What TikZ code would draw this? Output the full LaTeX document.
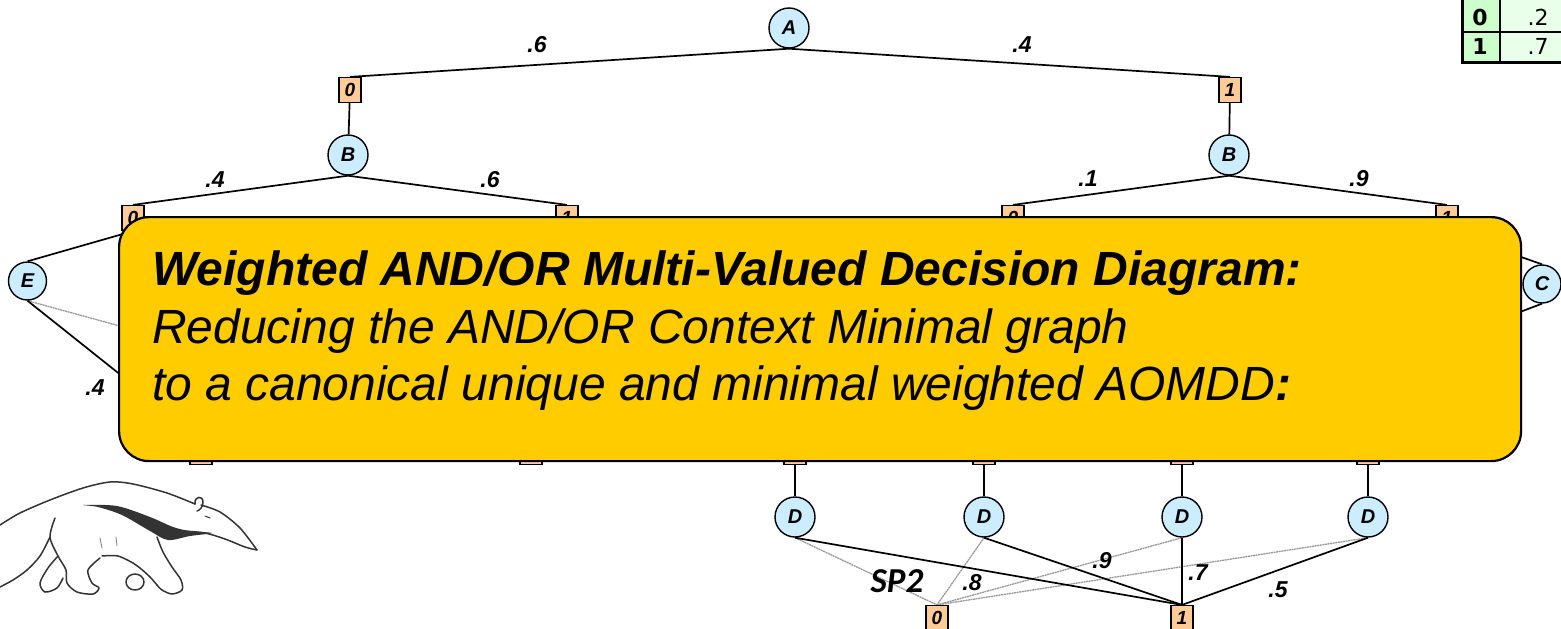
\documentclass[tikz,border=0pt]{standalone}
\usepackage{fontspec}
\setmainfont{Liberation Sans}
\newfontfamily\tablefont{DejaVu Sans}
\newfontfamily\calfont{Carlito}

\definecolor{orblue}{RGB}{204,236,255}
\definecolor{andpeach}{RGB}{255,204,153}
\definecolor{notegold}{RGB}{255,204,0}
\definecolor{cellgreen}{RGB}{204,255,204}
\definecolor{cellpale}{RGB}{234,255,234}

\pgfdeclarelayer{edges}
\pgfdeclarelayer{front}
\pgfsetlayers{edges,main,front}

\begin{document}
\begin{tikzpicture}[x=1pt,y=-1pt,
  ornode/.style={circle,draw,line width=1.4pt,fill=orblue,minimum size=40pt,inner sep=0pt,
    font=\bfseries\itshape\fontsize{20}{20}\selectfont},
  andbox/.style={rectangle,draw,line width=1.2pt,fill=andpeach,minimum width=22pt,minimum height=25pt,
    inner sep=0pt,font=\bfseries\itshape\fontsize{19}{19}\selectfont},
  arcone/.style={line width=1.7pt},
  arczero/.style={line width=1.3pt,gray!80,dash pattern=on 2pt off 0.6pt},
  wt/.style={font=\bfseries\itshape\fontsize{23}{23}\selectfont,inner sep=0pt},
  celltext/.style={font=\tablefont\fontsize{22}{22}\selectfont,inner sep=0pt},
  sketch/.style={line width=1.5pt,draw=black!80,line cap=round,line join=round},
]
\useasboundingbox (0,0) rectangle (1561,629);

% OR nodes and AND nodes
\node[ornode] (A) at (789,28) {A};
\node[andbox] (a0) at (350,90) {0};
\node[andbox] (a1) at (1230,90) {1};
\node[ornode] (BL) at (348,155) {B};
\node[ornode] (BR) at (1229,155) {B};
\node[andbox] (b00) at (133,218) {0};
\node[andbox] (b01) at (567,218) {1};
\node[andbox] (b10) at (1013,218) {0};
\node[andbox] (b11) at (1447,218) {1};
\node[ornode,minimum size=38pt] (E) at (27.5,281) {E};
\node[ornode,minimum size=38pt] (C) at (1542,284) {C};
\node[andbox] (l1) at (201,452) {};
\node[andbox] (l2) at (531,452) {};
\node[andbox] (l3) at (795,452) {};
\node[andbox] (l4) at (984,452) {};
\node[andbox] (l5) at (1182,452) {};
\node[andbox] (l6) at (1368,452) {};
\node[ornode] (D1) at (795,517) {D};
\node[ornode] (D2) at (984,517) {D};
\node[ornode] (D3) at (1182,517) {D};
\node[ornode] (D4) at (1368,517) {D};
\node[andbox] (t0) at (937,618) {0};
\node[andbox] (t1) at (1182,618) {1};

% arcs
\begin{pgfonlayer}{edges}
  \draw[arcone] (A.south) -- (a0.north);
  \draw[arcone] (A.south) -- (a1.north);
  \draw[arcone] (a0) -- (BL);
  \draw[arcone] (a1) -- (BR);
  \draw[arcone] (BL.south) -- (b00.north);
  \draw[arcone] (BL.south) -- (b01.north);
  \draw[arcone] (BR.south) -- (b10.north);
  \draw[arcone] (BR.south) -- (b11.north);
  \draw[arcone] (E.north) -- (b00.south);
  \draw[arczero] (E.south) -- (l2.north);
  \draw[arcone] (E.south) -- (l1.north);
  \draw[arcone] (C.north) -- (b11.south);
  \draw[arcone] (C.south) -- (l5.north);
  \draw[arcone] (l3) -- (D1);
  \draw[arcone] (l4) -- (D2);
  \draw[arcone] (l5) -- (D3);
  \draw[arcone] (l6) -- (D4);
  \foreach \d in {D1,D2,D3,D4}{
    \draw[arczero] (\d.south) -- (t0.north);
  }
  \foreach \d in {D1,D2,D3,D4}{
    \draw[arcone] (\d.south) -- (t1.north);
  }
\end{pgfonlayer}

% weights
\node[wt] (w1) at (537,45) {.6};
\node[wt] (w2) at (1022,45) {.4};
\node[wt] (w3) at (215,180) {.4};
\node[wt] (w4) at (490,180) {.6};
\node[wt] (w5) at (1088,179) {.1};
\node[wt] (w6) at (1359,179) {.9};
\node[wt] (w7) at (95,388) {.4};
\node[wt] (w8) at (972,583) {.8};
\node[wt] (w9) at (1102,561) {.9};
\node[wt] (w10) at (1198,573) {.7};
\node[wt] (w11) at (1278,590) {.5};
\node[font=\calfont\bfseries\itshape\fontsize{35}{35}\selectfont,inner sep=0pt] (sp) at (897,581) {SP2};

% probability table
\fill[cellgreen] (1462,-2) rectangle (1500,62);
\fill[cellpale] (1500,-2) rectangle (1562,62);
\draw[line width=3pt] (1462,-2) -- (1462,62) -- (1562,62);
\draw[line width=2pt] (1500,-2) -- (1500,62);
\draw[line width=2pt] (1462,32) -- (1562,32);
\node[celltext,font=\tablefont\bfseries\fontsize{22}{22}\selectfont] (k0) at (1480,17) {0};
\node[celltext,font=\tablefont\bfseries\fontsize{22}{22}\selectfont] (k1) at (1480,46) {1};
\node[celltext] (v0) at (1538,17) {.2};
\node[celltext] (v1) at (1538,46) {.7};

% anteater sketch
\begin{scope}[sketch]
  \draw plot[smooth] coordinates {(0,525) (20,513) (50,500) (83,488) (110,482) (133,484) (167,493) (195,504)};
  \draw (195,504) .. controls (194,496) and (203,495) .. (203,502) .. controls (203,507) and (200,510) .. (197,511);
  \draw plot[smooth] coordinates {(201,505) (220,512) (240,528) (257,550)};
  \draw plot[smooth] coordinates {(257,550) (245,547) (225,539) (205,533) (182,531)};
  \draw[line width=1pt] (205,516) -- (210,518);
  \fill[black!80] plot[smooth cycle] coordinates {(83,505) (117,506) (150,517) (173,527) (190,531) (212,533) (190,536) (168,540) (150,531) (122,515) (98,507)};
  \draw plot[smooth] coordinates {(157,537) (163,552) (172,567) (181,580) (182,590) (172,594) (162,590) (157,585)};
  \draw plot[smooth] coordinates {(157,585) (150,577) (140,568) (133,563)};
  \draw (135,582) ellipse [x radius=9pt, y radius=8pt];
  \draw plot[smooth] coordinates {(133,563) (118,556) (102,556)};
  \draw plot[smooth] coordinates {(55,518) (50,537) (58,556) (66,570) (67,583) (77,592) (93,594) (99,588) (92,583) (88,570) (100,558)};
  \draw plot[smooth] coordinates {(58,556) (48,568) (40,583) (45,592) (57,588) (63,578)};
  \draw plot[smooth] coordinates {(50,537) (40,556) (27,570) (13,580) (0,587)};
  \draw[line width=0.8pt,black!50] (100,538) -- (102,548);
  \draw[line width=0.8pt,black!50] (116,537) -- (117,546);
\end{scope}

% caption box laid over the diagram
\begin{pgfonlayer}{front}
  \node[draw,line width=2.2pt,fill=notegold,rounded corners=30pt,minimum width=1402pt,
    minimum height=244pt,anchor=north west,inner sep=0pt] (note) at (118,216) {};
  \node[anchor=base west,inner sep=0pt,font=\bfseries\itshape\fontsize{48}{48}\selectfont] (t1l) at (152,285)
    {Weighted AND/OR Multi-Valued Decision Diagram:};
  \node[anchor=base west,inner sep=0pt,font=\itshape\fontsize{48}{48}\selectfont] (t2l) at (152,343)
    {Reducing the AND/OR Context Minimal graph};
  \node[anchor=base west,inner sep=0pt,font=\itshape\fontsize{48}{48}\selectfont] (t3l) at (152,400)
    {to a canonical unique and minimal weighted AOMDD\textbf{:}};
\end{pgfonlayer}
\end{tikzpicture}
\end{document}
